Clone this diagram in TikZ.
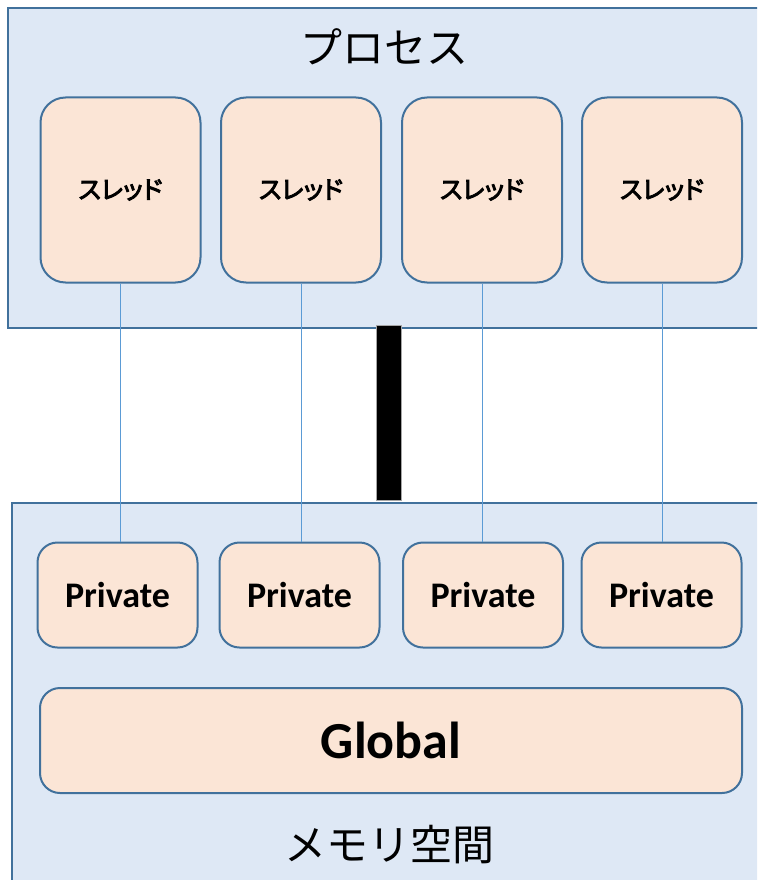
\documentclass[tikz,border=0pt]{standalone}
\usepackage{fontspec}
\newfontfamily\jp{Noto Sans CJK JP}
\newfontfamily\jpbold[FakeBold=3.5,RawFeature=+palt]{Noto Sans CJK JP}
\newfontfamily\lat{Carlito}
\definecolor{panelfill}{HTML}{DEE8F5}
\definecolor{panelline}{HTML}{41719C}
\definecolor{boxfill}{HTML}{FBE5D6}
\definecolor{linkline}{HTML}{5B9BD5}
\tikzset{
  panel/.style={draw=panelline, fill=panelfill, line width=2},
  threadbox/.style={draw=panelline, fill=boxfill, line width=2, rounded corners=25,
    minimum width=160, minimum height=185, inner sep=0, font=\jpbold\fontsize{25}{28}\selectfont},
  membox/.style={draw=panelline, fill=boxfill, line width=2, rounded corners=20,
    minimum width=160, minimum height=105, inner sep=0, font=\lat\bfseries\fontsize{36}{40}\selectfont},
  link/.style={draw=linkline, line width=1},
  caption/.style={font=\jp\fontsize{42}{48}\selectfont, inner sep=0}
}
\begin{document}
\begin{tikzpicture}[x=1pt, y=-1pt]
  \useasboundingbox (0,0) rectangle (757,880);
  \clip (0,0) rectangle (757,880);
  \fill[white] (0,0) rectangle (757,880);

  % process and memory panels
  \draw[panel] (8,8) rectangle (780,328);
  \draw[panel] (12,503) rectangle (780,900);
  \node[caption] (proc) at (384,47) {プロセス};
  \node[caption] (mem) at (389,845) {メモリ空間};

  % threads
  \node[threadbox] (t1) at (120.5,190) {スレッド};
  \node[threadbox] (t2) at (301,190) {スレッド};
  \node[threadbox] (t3) at (482,190) {スレッド};
  \node[threadbox] (t4) at (662,190) {スレッド};

  % private memory areas
  \node[membox] (p1) at (117.5,595) {Private};
  \node[membox] (p2) at (299.5,595) {Private};
  \node[membox] (p3) at (483,595) {Private};
  \node[membox] (p4) at (661.5,595) {Private};

  % shared global area
  \node[membox, minimum width=702, minimum height=105] (g) at (391,740.5)
    {\fontsize{52}{58}\selectfont Global};

  % links from each thread to its private area
  \foreach \i in {1,...,4} {
    \draw[link] (t\i.south) -- (t\i.south |- p\i.north);
  }

  % bar joining the two panels
  \node[draw=gray!70, fill=black, line width=0.8, minimum width=25, minimum height=175,
    inner sep=0] (bar) at (389,412.5) {};
\end{tikzpicture}
\end{document}
